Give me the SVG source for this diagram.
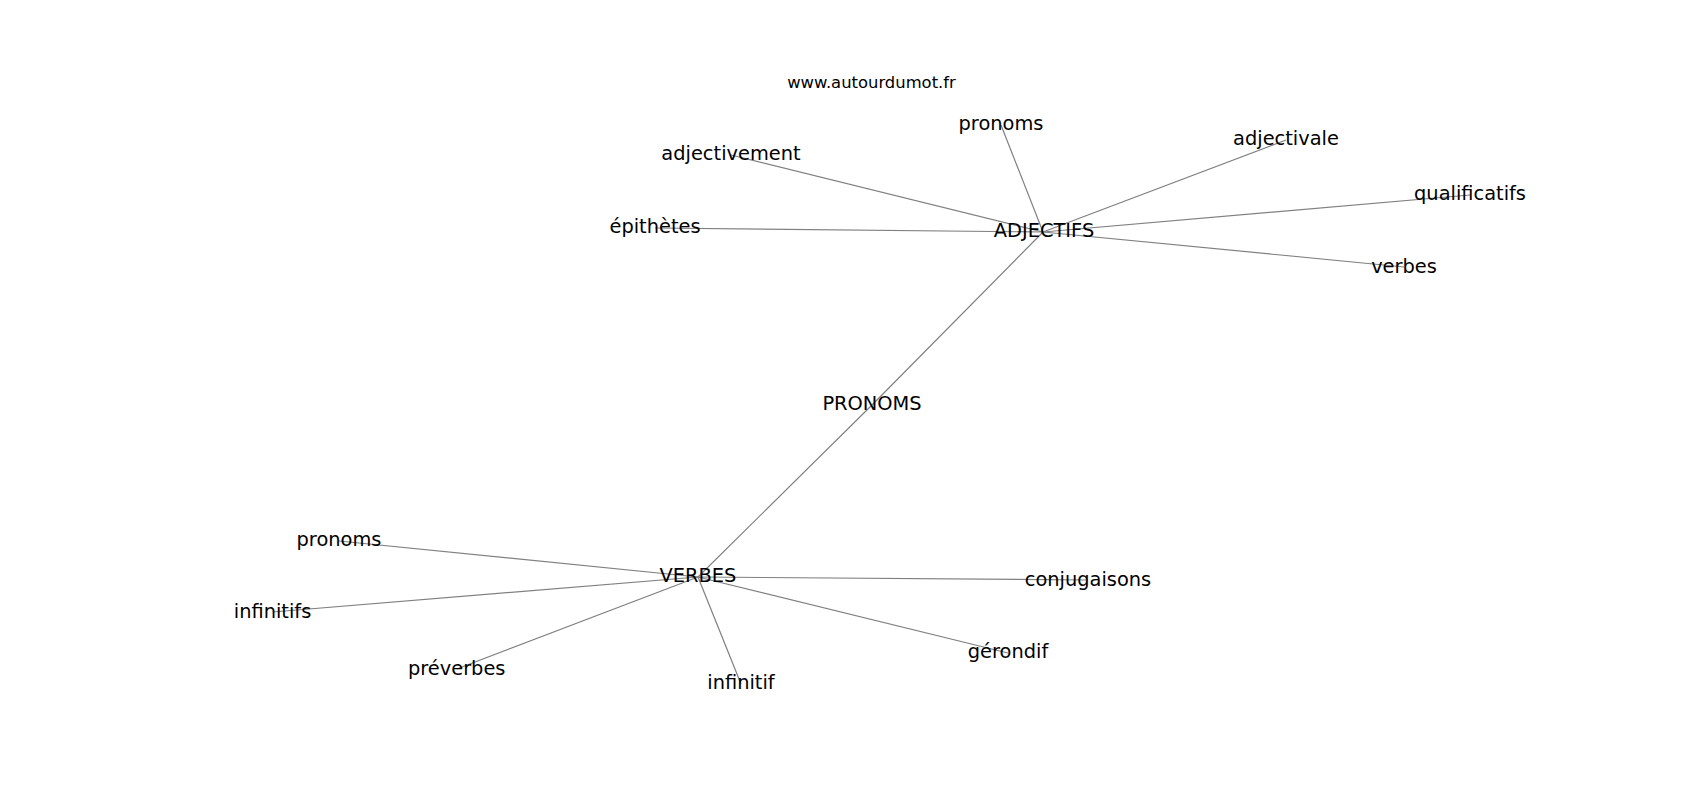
<svg xmlns="http://www.w3.org/2000/svg" width="1700" height="800" viewBox="0 0 1700 800">
<style>
.e{stroke:#808080;stroke-width:1.2;fill:none}
.n{font-family:"DejaVu Sans","Liberation Sans",sans-serif;font-size:19.4px;fill:#000;text-anchor:middle}
.t{font-family:"DejaVu Sans","Liberation Sans",sans-serif;font-size:16.4px;fill:#000;text-anchor:middle}
</style>
<rect x="0" y="0" width="1700" height="800" fill="#fff"/>
<g id="edges">
<line class="e" x1="1043" y1="232" x2="872" y2="405"/>
<line class="e" x1="872" y1="405" x2="698" y2="577"/>
<line class="e" x1="1043" y1="232" x2="1001" y2="125"/>
<line class="e" x1="1043" y1="232" x2="731" y2="155"/>
<line class="e" x1="1043" y1="232" x2="1286" y2="140"/>
<line class="e" x1="1043" y1="232" x2="1470" y2="195"/>
<line class="e" x1="1043" y1="232" x2="655" y2="228"/>
<line class="e" x1="1043" y1="232" x2="1404" y2="267"/>
<line class="e" x1="698" y1="577" x2="339" y2="541"/>
<line class="e" x1="698" y1="577" x2="1088" y2="580"/>
<line class="e" x1="698" y1="577" x2="272.5" y2="612"/>
<line class="e" x1="698" y1="577" x2="1008" y2="653"/>
<line class="e" x1="698" y1="577" x2="456.7" y2="669"/>
<line class="e" x1="698" y1="577" x2="741" y2="684"/>
</g>
<text class="t" x="871.5" y="88.3">www.autourdumot.fr</text>
<g id="n-adjectifs"><text class="n" x="1044" y="237.3">ADJECTIFS</text></g>
<g id="n-pronoms-c"><text class="n" x="872" y="410">PRONOMS</text></g>
<g id="n-verbes-c"><text class="n" x="698" y="581.7">VERBES</text></g>
<g id="n-pronoms-a"><text class="n" x="1001" y="130">pronoms</text></g>
<g id="n-adjectivement"><text class="n" x="731" y="160">adjectivement</text></g>
<g id="n-adjectivale"><text class="n" x="1286" y="145">adjectivale</text></g>
<g id="n-qualificatifs"><text class="n" x="1470" y="200">qualificatifs</text></g>
<g id="n-epithetes"><text class="n" x="655" y="233.3">épithètes</text></g>
<g id="n-verbes"><text class="n" x="1404" y="272.5">verbes</text></g>
<g id="n-pronoms-v"><text class="n" x="339" y="546">pronoms</text></g>
<g id="n-conjugaisons"><text class="n" x="1088" y="586">conjugaisons</text></g>
<g id="n-infinitifs"><text class="n" x="272.5" y="618">infinitifs</text></g>
<g id="n-gerondif"><text class="n" x="1008" y="658.3">gérondif</text></g>
<g id="n-preverbes"><text class="n" x="456.7" y="675">préverbes</text></g>
<g id="n-infinitif"><text class="n" x="741" y="689.3">infinitif</text></g>
</svg>
